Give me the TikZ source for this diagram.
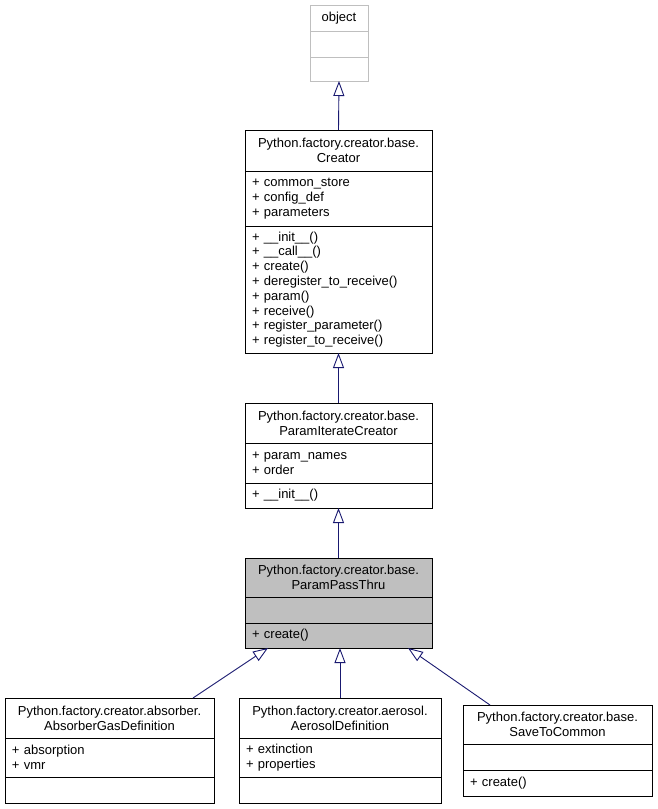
\documentclass[tikz,border=0pt]{standalone}
\usepackage{fontspec}
\setmainfont{Liberation Sans}
\usetikzlibrary{arrows.meta}
\usetikzlibrary{positioning}
\definecolor{edgeblue}{HTML}{191970}
\definecolor{nodegray}{HTML}{BFBFBF}
\newcommand{\classfont}{\fontsize{13}{14.8}\selectfont}

\begin{document}
\begin{tikzpicture}[x=1pt, y=-1pt,
    classtitle/.style={draw=black, line width=0.9pt, align=center, inner sep=0pt, outer sep=0pt, font=\classfont},
    classmembers/.style={draw=black, line width=0.9pt, align=left, inner xsep=7pt, inner ysep=0pt, outer sep=0pt, font=\classfont},
    inherit/.style={draw=edgeblue, line width=0.9pt, -{Triangle[open, length=15pt, width=11pt]}}]
  \useasboundingbox (0,0) rectangle (657,809);

  % object
  \node[classtitle, draw=nodegray, minimum width=58pt, minimum height=26pt, anchor=north west] (object) at (310,5) {object};
  \node[classmembers, draw=nodegray, text width=44pt, minimum height=26pt, below=0pt of object] (objectattr) {};
  \node[classmembers, draw=nodegray, text width=44pt, minimum height=24pt, below=0pt of objectattr] (objectops) {};

  % Creator
  \node[classtitle, minimum width=187pt, minimum height=41pt, anchor=north west] (creator) at (245,130) {Python.factory.creator.base.\\Creator};
  \node[classmembers, text width=173pt, minimum height=55pt, below=0pt of creator] (creatorattr) {+ common\_store\\+ config\_def\\+ parameters};
  \node[classmembers, text width=173pt, minimum height=127pt, below=0pt of creatorattr] (creatorops) {+ \_\_init\_\_()\\+ \_\_call\_\_()\\+ create()\\+ deregister\_to\_receive()\\+ param()\\+ receive()\\+ register\_parameter()\\+ register\_to\_receive()};

  % ParamIterateCreator
  \node[classtitle, minimum width=187pt, minimum height=40pt, anchor=north west] (iterate) at (245,403) {Python.factory.creator.base.\\ParamIterateCreator};
  \node[classmembers, text width=173pt, minimum height=40pt, below=0pt of iterate] (iterateattr) {+ param\_names\\+ order};
  \node[classmembers, text width=173pt, minimum height=25pt, below=0pt of iterateattr] (iterateops) {+ \_\_init\_\_()};

  % ParamPassThru
  \node[classtitle, fill=nodegray, minimum width=187pt, minimum height=39pt, anchor=north west] (passthru) at (245,558) {Python.factory.creator.base.\\ParamPassThru};
  \node[classmembers, fill=nodegray, text width=173pt, minimum height=26pt, below=0pt of passthru] (passthruattr) {};
  \node[classmembers, fill=nodegray, text width=173pt, minimum height=25pt, below=0pt of passthruattr] (passthruops) {+ create()};

  % AbsorberGasDefinition
  \node[classtitle, minimum width=209pt, minimum height=40pt, anchor=north west] (absorber) at (5,698) {Python.factory.creator.absorber.\\AbsorberGasDefinition};
  \node[classmembers, text width=195pt, minimum height=39pt, below=0pt of absorber] (absorberattr) {+ absorption\\+ vmr};
  \node[classmembers, text width=195pt, minimum height=26pt, below=0pt of absorberattr] (absorberops) {};

  % AerosolDefinition
  \node[classtitle, minimum width=202pt, minimum height=40pt, anchor=north west] (aerosol) at (239,698) {Python.factory.creator.aerosol.\\AerosolDefinition};
  \node[classmembers, text width=188pt, minimum height=39pt, below=0pt of aerosol] (aerosolattr) {+ extinction\\+ properties};
  \node[classmembers, text width=188pt, minimum height=26pt, below=0pt of aerosolattr] (aerosolops) {};

  % SaveToCommon
  \node[classtitle, minimum width=189pt, minimum height=39pt, anchor=north west] (save) at (463,705) {Python.factory.creator.base.\\SaveToCommon};
  \node[classmembers, text width=175pt, minimum height=26pt, below=0pt of save] (saveattr) {};
  \node[classmembers, text width=175pt, minimum height=26pt, below=0pt of saveattr] (saveops) {+ create()};

  % inheritance
  \draw[inherit] (creator.north) -- (objectops.south);
  \draw[inherit] (iterate.north) -- (creatorops.south);
  \draw[inherit] (passthru.north) -- (iterateops.south);
  \draw[inherit] ([xshift=83.5pt]absorber.north) -- ([xshift=-70.5pt]passthruops.south);
  \draw[inherit] (aerosol.north) -- (aerosol.north |- passthruops.south);
  \draw[inherit] ([xshift=-67.5pt]save.north) -- ([xshift=69.5pt]passthruops.south);
\end{tikzpicture}
\end{document}
